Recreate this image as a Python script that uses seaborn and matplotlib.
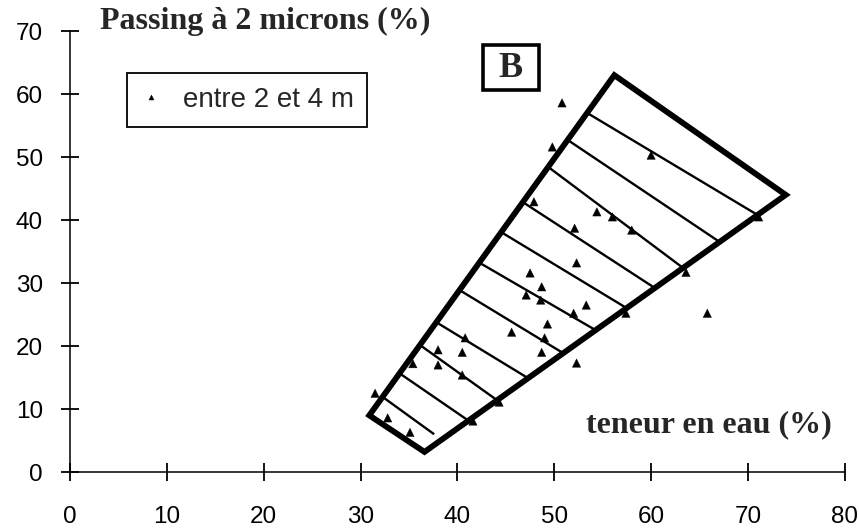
import numpy as np
import pandas as pd
import matplotlib
matplotlib.use("Agg")
import matplotlib.pyplot as plt
import seaborn as sns
from matplotlib.patches import Polygon, Rectangle

# ---- data ----
water = [31.5, 32.8, 35.1, 35.4, 38.0, 38.0, 40.5, 40.8, 40.5, 41.6, 44.3,
         45.6, 47.1, 47.5, 48.6, 48.7, 49.3, 49.0, 48.7, 52.0, 53.3, 52.3,
         52.3, 47.9, 52.1, 49.8, 50.8, 54.4, 56.0, 58.0, 60.0, 63.6, 57.4,
         65.8, 71.1]
passing = [12.5, 8.6, 6.3, 17.2, 19.4, 17.0, 19.0, 21.3, 15.4, 8.1, 11.1,
           22.2, 28.1, 31.6, 27.3, 29.4, 23.5, 21.3, 19.0, 25.2, 26.5, 33.2,
           17.3, 42.9, 38.7, 51.6, 58.6, 41.3, 40.5, 38.4, 50.3, 31.7, 25.2,
           25.2, 40.5]

# zone polygon (water %, passing %)
zone_x = [30.9, 36.6, 73.9, 56.2]
zone_y = [9.0, 3.2, 44.0, 63.0]

# hatch lines: start on left edge, end on lower-right edge
hatch_x0 = [32.3, 34.0, 36.1, 37.8, 40.2, 42.3, 44.5, 46.7, 49.4, 51.4, 53.4]
hatch_y0 = [11.9, 15.7, 20.2, 23.8, 28.9, 33.2, 38.1, 42.9, 48.4, 52.7, 57.0]
hatch_x1 = [37.6, 41.2, 44.1, 47.3, 50.9, 54.3, 57.5, 60.4, 63.3, 67.1, 71.0]
hatch_y1 = [6.0, 8.1, 11.4, 14.9, 18.9, 22.5, 26.0, 29.2, 32.4, 36.5, 40.8]

x_ticks = [0, 10, 20, 30, 40, 50, 60, 70, 80]
y_ticks = [0, 10, 20, 30, 40, 50, 60, 70]

series_label = "entre 2 et 4 m"
y_title = "Passing à 2 microns (%)"
x_title = "teneur en eau (%)"
panel_label = "B"

df = pd.DataFrame({"w": water, "p": passing, "s": series_label})

# ---- style ----
sns.set_style("white")
plt.rcParams["font.family"] = ["Liberation Sans", "DejaVu Sans"]
serif = ["Liberation Serif", "DejaVu Serif"]

fig = plt.figure(figsize=(8.59, 5.31), dpi=100)
ax = fig.add_axes([0.0815, 0.111, 0.902, 0.8305])

# zone
poly = Polygon(list(zip(zone_x, zone_y)), closed=True, fill=False,
               edgecolor="black", linewidth=4.2, joinstyle="miter", zorder=3)
ax.add_patch(poly)
for a, b, c, d in zip(hatch_x0, hatch_y0, hatch_x1, hatch_y1):
    ax.plot([a, c], [b, d], color="black", linewidth=1.7, zorder=2,
            solid_capstyle="butt")

sns.scatterplot(data=df, x="w", y="p", hue="s", palette=["black"],
                marker="^", s=36, edgecolor="black", linewidth=0.3,
                ax=ax, zorder=4)

ax.set_xlim(0, 80)
ax.set_ylim(0, 70)
ax.set_xticks(x_ticks)
ax.set_yticks(y_ticks)
ax.set_xlabel("")
ax.set_ylabel("")

for side in ["top", "right"]:
    ax.spines[side].set_visible(False)
for side in ["left", "bottom"]:
    ax.spines[side].set_color("black")
    ax.spines[side].set_linewidth(1.1)

ax.tick_params(axis="both", which="major", bottom=True, left=True,
               direction="inout", length=13, width=1.3,
               color="black", labelsize=17.5, labelcolor="black")
ax.tick_params(axis="x", pad=18)
ax.tick_params(axis="y", pad=13)

# titles
ax.text(3.1, 71.5, y_title, fontsize=23, fontweight="bold",
        family=serif, ha="left", va="center", clip_on=False)
ax.text(53.3, 7.5, x_title, fontsize=23, fontweight="bold",
        family=serif, ha="left", va="center")

# panel label box
ax.add_patch(Rectangle((42.6, 60.6), 5.85, 7.2, fill=True, facecolor="white",
                       edgecolor="black", linewidth=2.6, zorder=5))
ax.text(45.5, 64.1, panel_label, fontsize=26, fontweight="bold",
        family=serif, ha="center", va="center", zorder=6)

# legend
handles, labels = ax.get_legend_handles_labels()
leg = ax.legend(handles, labels, loc="upper left",
                bbox_to_anchor=(0.0735, 0.905), frameon=True, fancybox=False,
                edgecolor="black", framealpha=1, fontsize=20,
                borderpad=0.5, handlelength=0.7, handletextpad=0.8,
                markerscale=0.6, borderaxespad=0)
leg.get_frame().set_linewidth(1.3)

fig.savefig("out.png", dpi=100)
